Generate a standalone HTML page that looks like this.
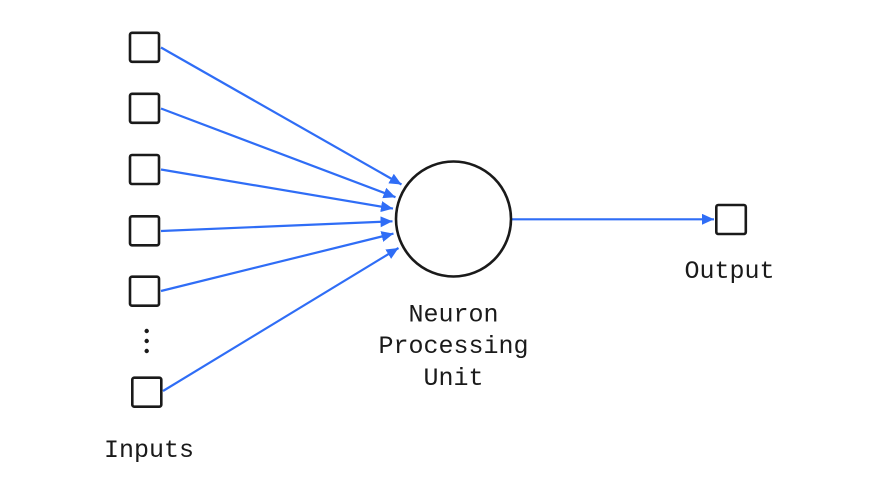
<!DOCTYPE html>
<html>
<head>
<meta charset="utf-8">
<style>
  html,body{margin:0;padding:0;background:#fff;}
  svg{display:block;}
  text{font-family:"Liberation Mono", monospace;font-size:25px;fill:#1a1a1a;}
</style>
</head>
<body>
<svg width="880" height="495" viewBox="0 0 880 495" xmlns="http://www.w3.org/2000/svg">
  <defs>
    <marker id="ah" markerUnits="userSpaceOnUse" markerWidth="13" markerHeight="11" refX="12" refY="5.5" orient="auto">
      <path d="M0,0 L12,5.5 L0,11 z" fill="#2f6df6"/>
    </marker>
  </defs>

  <!-- connectors -->
  <g stroke="#2f6df6" stroke-width="2.2" fill="none" marker-end="url(#ah)">
    <line x1="161" y1="47.5" x2="401.5" y2="184.5"/>
    <line x1="161" y1="108.5" x2="395.5" y2="197.2"/>
    <line x1="161" y1="169.5" x2="393" y2="208.6"/>
    <line x1="161" y1="231" x2="392.5" y2="221.3"/>
    <line x1="161" y1="291" x2="393.5" y2="233.6"/>
    <line x1="163" y1="391" x2="398.5" y2="248"/>
    <line x1="511" y1="219.3" x2="714" y2="219.3"/>
  </g>

  <!-- input boxes -->
  <g fill="#fff" stroke="#1a1a1a" stroke-width="2.6">
    <rect x="130" y="32.8" width="29" height="29" rx="2"/>
    <rect x="130" y="93.8" width="29" height="29" rx="2"/>
    <rect x="130" y="155" width="29" height="29" rx="2"/>
    <rect x="130" y="216.3" width="29" height="29" rx="2"/>
    <rect x="130" y="276.7" width="29" height="29" rx="2"/>
    <rect x="132.3" y="377.7" width="29" height="29" rx="2"/>
    <!-- output box -->
    <rect x="716.3" y="205" width="29.5" height="29" rx="2"/>
  </g>

  <!-- dots -->
  <g fill="#1a1a1a">
    <circle cx="146.7" cy="331" r="2.2"/>
    <circle cx="146.7" cy="341" r="2.2"/>
    <circle cx="146.7" cy="351" r="2.2"/>
  </g>

  <!-- neuron -->
  <circle cx="453.5" cy="219" r="57.5" fill="#fff" stroke="#1a1a1a" stroke-width="2.6"/>

  <!-- labels -->
  <text x="149" y="457" text-anchor="middle">Inputs</text>
  <text x="729.5" y="278" text-anchor="middle">Output</text>
  <text x="453.5" y="321.5" text-anchor="middle">Neuron</text>
  <text x="453.5" y="353" text-anchor="middle">Processing</text>
  <text x="453.5" y="385" text-anchor="middle">Unit</text>
</svg>
</body>
</html>
